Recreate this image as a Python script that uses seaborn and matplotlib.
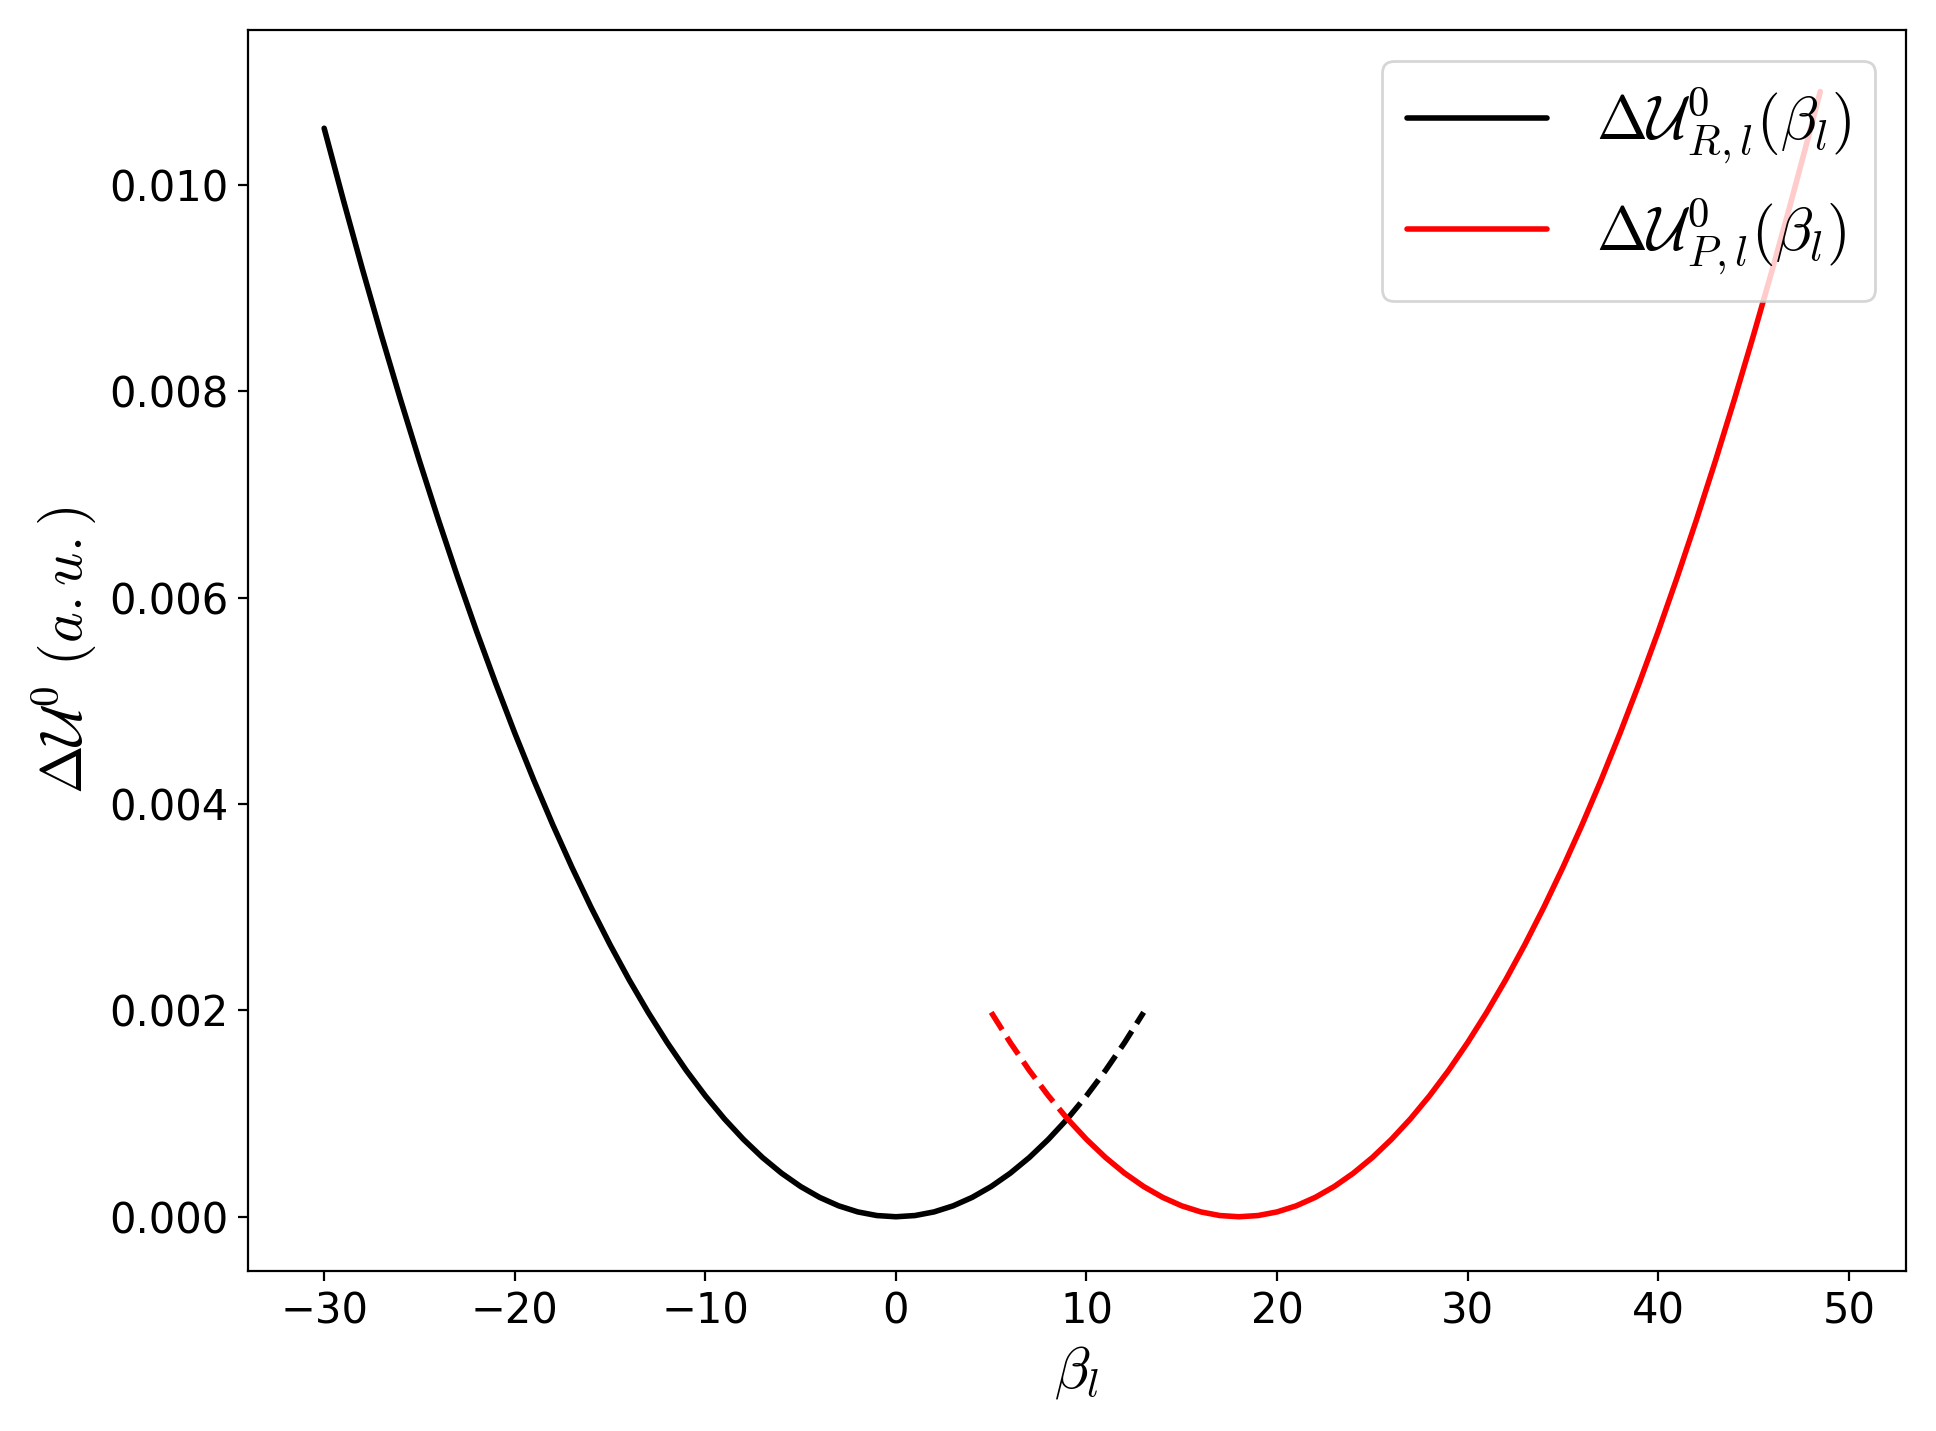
import matplotlib
matplotlib.use("Agg")
import matplotlib.pyplot as plt
import seaborn as sns

# values
bR_solid_x = list(range(-30, 10))
bR_solid_y = [0.010548, 0.009857, 0.009188, 0.008544, 0.007923, 0.007325, 0.006751, 0.006200, 0.005672, 0.005169,
              0.004688, 0.004231, 0.003797, 0.003387, 0.003000, 0.002637, 0.002297, 0.001981, 0.001688, 0.001418,
              0.001172, 0.000949, 0.000750, 0.000574, 0.000422, 0.000293, 0.0001875, 0.0001055, 0.0000469, 0.0000117,
              0.0, 0.0000117, 0.0000469, 0.0001055, 0.0001875, 0.000293, 0.000422, 0.000574, 0.000750, 0.000949]
bR_dash_x = [9, 10, 11, 12, 13]
bR_dash_y = [0.000949, 0.001172, 0.001418, 0.001688, 0.001981]

rP_dash_x = [5, 6, 7, 8, 9]
rP_dash_y = [0.001981, 0.001688, 0.001418, 0.001172, 0.000949]
rP_solid_x = list(range(9, 49)) + [48.5]
rP_solid_y = [0.000949, 0.000750, 0.000574, 0.000422, 0.000293, 0.0001875, 0.0001055, 0.0000469, 0.0000117, 0.0,
              0.0000117, 0.0000469, 0.0001055, 0.0001875, 0.000293, 0.000422, 0.000574, 0.000750, 0.000949, 0.001172,
              0.001418, 0.001688, 0.001981, 0.002297, 0.002637, 0.003000, 0.003387, 0.003797, 0.004231, 0.004688,
              0.005169, 0.005672, 0.006200, 0.006751, 0.007325, 0.007923, 0.008544, 0.009188, 0.009857, 0.010548,
              0.010903]

sns.set_style("ticks")
plt.rcParams['font.family'] = ['DejaVu Sans']
plt.rcParams['mathtext.fontset'] = 'cm'
plt.rcParams['text.color'] = 'black'
plt.rcParams['axes.labelcolor'] = 'black'
plt.rcParams['xtick.color'] = 'black'
plt.rcParams['ytick.color'] = 'black'
fig, ax = plt.subplots(figsize=(9.68, 7.155), dpi=200)

sns.lineplot(x=bR_solid_x, y=bR_solid_y, color="black", lw=2, ax=ax,
             label=r"$\Delta\mathcal{U}^0_{R,l}(\beta_l)$")
sns.lineplot(x=bR_dash_x, y=bR_dash_y, color="black", lw=2, ls="--", ax=ax)
sns.lineplot(x=rP_solid_x, y=rP_solid_y, color="red", lw=2, ax=ax,
             label=r"$\Delta\mathcal{U}^0_{P,l}(\beta_l)$")
sns.lineplot(x=rP_dash_x, y=rP_dash_y, color="red", lw=2, ls="--", ax=ax)

ax.set_xlim(-34, 53)
ax.set_ylim(-0.00053, 0.0115)
ax.set_xticks([-30, -20, -10, 0, 10, 20, 30, 40, 50])
ax.set_yticks([0.0, 0.002, 0.004, 0.006, 0.008, 0.010])
ax.set_yticklabels(["0.000", "0.002", "0.004", "0.006", "0.008", "0.010"])
ax.tick_params(labelsize=15)
ax.set_xlabel(r"$\beta_l$", fontsize=21)
ax.set_ylabel(r"$\Delta\mathcal{U}^0\ (a.u.)$", fontsize=21)
for s in ax.spines.values():
    s.set_visible(True)
    s.set_color("black")
ax.legend(loc="upper right", fontsize=22, handlelength=2.3)
fig.tight_layout()
fig.savefig("out.png", dpi=200)
